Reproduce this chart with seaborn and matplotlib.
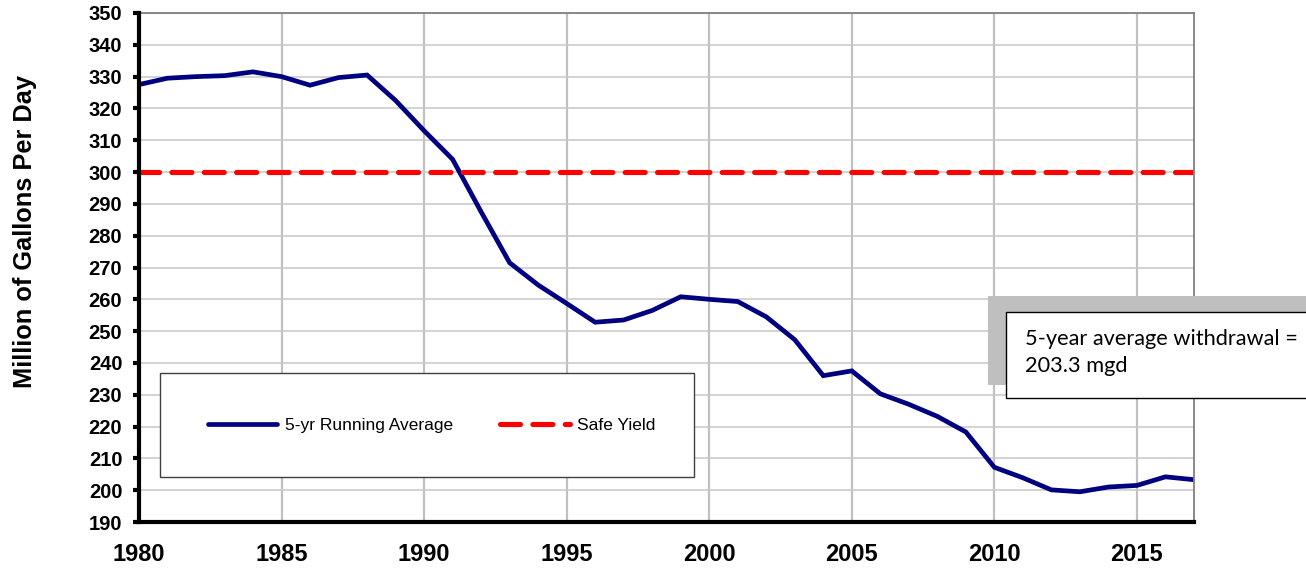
import numpy as np
import pandas as pd
import seaborn as sns
import matplotlib.pyplot as plt
from matplotlib.patches import Rectangle
from matplotlib.ticker import MultipleLocator

# Values
years = list(range(1980, 2018))
running_avg = [327.5, 329.5, 330.0, 330.3, 331.5, 330.0, 327.3, 329.7, 330.5, 322.5,
               313.0, 304.0, 287.5, 271.5, 264.5, 258.7, 252.8, 253.5, 256.5, 260.8,
               260.0, 259.3, 254.5, 247.3, 236.0, 237.5, 230.3, 227.0, 223.2, 218.3,
               207.2, 203.9, 200.1, 199.5, 201.0, 201.5, 204.2, 203.3]
safe_yield = [300] * len(years)
labels = ['5-yr Running Average', 'Safe Yield']
note_text = '5-year average withdrawal =\n203.3 mgd'

df = pd.DataFrame({'year': years, 'avg': running_avg, 'safe': safe_yield})

sns.set_style("white")
plt.rcParams['font.family'] = ['Liberation Sans', 'DejaVu Sans']
plt.rcParams.update({'text.color': 'black', 'axes.labelcolor': 'black',
                     'xtick.color': 'black', 'ytick.color': 'black'})

fig = plt.figure(figsize=(13.06, 5.70), dpi=100)
ax = fig.add_axes([0.1064, 0.0842, 0.8078, 0.893])

sns.lineplot(data=df, x='year', y='avg', color='#000080', lw=3.4, ax=ax, label=labels[0])
sns.lineplot(data=df, x='year', y='safe', color='#FF0000', lw=3.7, ax=ax, label=labels[1])
avg_line, safe_line = ax.get_lines()[:2]
avg_line.set_solid_joinstyle('miter')
safe_line.set_dashes((3.9, 2.4))
safe_line.set_dash_capstyle('round')

ax.set_xlim(1980, 2017)
ax.set_ylim(190, 350)
ax.xaxis.set_major_locator(MultipleLocator(5))
ax.xaxis.set_minor_locator(MultipleLocator(1))
ax.yaxis.set_major_locator(MultipleLocator(10))

ax.grid(True, axis='x', which='major', color='#C0C0C0', lw=1.6)
ax.grid(True, axis='y', which='major', color='#C8C8C8', lw=1.1)
ax.set_axisbelow(True)

for s in ['top', 'right']:
    ax.spines[s].set_color('#808080')
    ax.spines[s].set_linewidth(1.3)
for s in ['left', 'bottom']:
    ax.spines[s].set_color('black')
    ax.spines[s].set_linewidth(3.0)
    ax.spines[s].set_zorder(5)

ax.tick_params(axis='x', which='major', direction='inout', length=10, width=3,
               labelsize=17, pad=10, color='black', labelcolor='black')
ax.tick_params(axis='x', which='minor', direction='in', length=4, width=3, color='black')
ax.tick_params(axis='y', which='major', direction='out', length=4, width=3,
               labelsize=14.5, pad=8, color='black', labelcolor='black', left=True)
for t in ax.get_xticklabels() + ax.get_yticklabels():
    t.set_fontweight('bold')

ax.set_xlabel('')
ax.set_ylabel('Million of Gallons Per Day', fontsize=18.3, fontweight='bold', color='black')
ax.yaxis.set_label_coords(-0.0967, 0.570)

# legend with its own frame
ax.add_patch(Rectangle((0.0199, 0.0884), 0.5061, 0.2043, transform=ax.transAxes,
                       facecolor='white', edgecolor='#404040', lw=1.0, zorder=6))
leg = ax.legend(handles=[avg_line, safe_line], labels=labels, loc='center left',
                bbox_to_anchor=(0.0654, 0.19), ncol=2, frameon=False, fontsize=12.5,
                handlelength=4.0, handletextpad=0.45, columnspacing=2.7,
                borderpad=0, borderaxespad=0, labelcolor='black')
leg.set_zorder(7)

# annotation box with shadow
fig.patches.append(Rectangle((0.7565, 0.3246), 0.26, 0.156, transform=fig.transFigure,
                             facecolor='#BFBFBF', edgecolor='none', zorder=3))
fig.patches.append(Rectangle((0.7703, 0.3017), 0.26, 0.1509, transform=fig.transFigure,
                             facecolor='white', edgecolor='black', lw=1.0, zorder=4))
fig.text(0.7848, 0.3816, note_text, fontsize=15.7, family=['Lato', 'DejaVu Sans'],
         color='black', va='center', ha='left', linespacing=1.45, zorder=5)

fig.savefig('out.png', dpi=100)
